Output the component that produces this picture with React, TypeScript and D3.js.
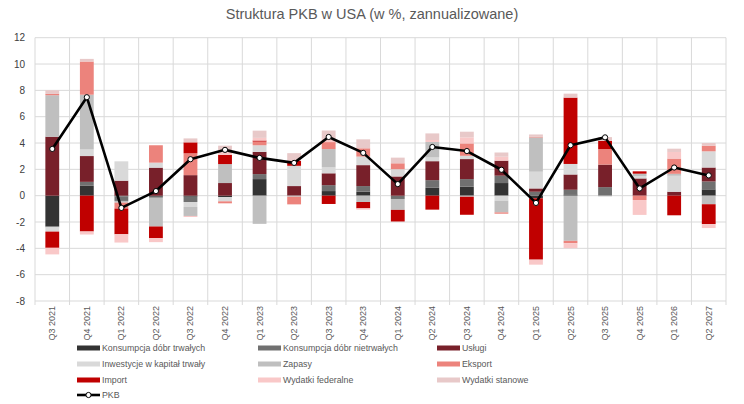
import React from "react";
import * as d3 from "d3";

const categories = ["Q3 2021","Q4 2021","Q1 2022","Q2 2022","Q3 2022","Q4 2022","Q1 2023","Q2 2023","Q3 2023","Q4 2023","Q1 2024","Q2 2024","Q3 2024","Q4 2024","Q1 2025","Q2 2025","Q3 2025","Q4 2025","Q1 2026","Q2 2027"];

const durable =     [-2.32, 0.75, -0.05, -0.08, -0.08, -0.1, 1.26, 0, 0.35, 0.3, 0, 0.6, 0.68, 0.96, -0.2, 0.1, 0, 0, 0, 0.48];
const nondurable =  [-0.08, 0.3, -0.35, -0.08, -0.4, 0, 0.38, 0, 0.45, 0.43, -0.25, 0.58, 0.58, 0.56, 0.3, 0.35, 0.65, 0, 0, 0.6];
const services =    [4.48, 1.96, 1.14, 2.13, 1.56, 0.96, 1.69, 0.73, 0.9, 1.59, 1.46, 1.44, 1.52, 1.14, 0.25, 1.16, 1.71, 1.31, 0.3, 1.06];
const investment =  [-0.33, 0.5, 1.47, 0.38, -0.38, -0.33, 0.5, 1.54, 0.45, 0.65, 0.55, 0.28, 0.25, -0.38, 1.27, 0.8, 0, 0.18, 1.21, 1.23];
const inventories = [3.15, 4.16, -0.13, -2.18, -0.68, 1.44, -2.14, -0.08, 1.39, -0.48, -0.83, 1.18, -0.08, -0.89, 2.6, -3.43, -0.05, 0.18, 0.15, -0.65];
const exportsV =    [0.1, 2.52, -0.45, 1.32, 1.66, -0.15, 0.28, -0.58, 0.53, 0.63, 0.45, 0, 0.94, -0.1, 0.06, -0.18, 1.18, -0.33, 1.16, 0.43];
const importsV =    [-1.23, -2.72, -1.95, -0.89, 0.83, 0.7, 0.08, 0.38, -0.63, -0.48, -0.88, -1.06, -1.37, 0, -4.66, 5.04, 0.63, 0.18, -1.49, -1.51];
const federal =     [-0.5, -0.23, -0.63, -0.3, -0.08, 0.2, 0.2, 0, 0.25, -0.1, 0, 0.15, 0.46, 0.3, -0.38, -0.38, 0, -1.13, 0.5, -0.3];
const stateV =      [0.28, 0.2, 0, 0, 0.3, 0.5, 0.55, 0.58, 0.63, 0.68, 0.43, 0.5, 0.43, 0.32, 0.17, 0.3, 0.28, 0, 0.25, 0.2];
const gdp =         [3.55, 7.48, -0.93, 0.35, 2.77, 3.48, 2.87, 2.49, 4.46, 3.25, 0.88, 3.7, 3.39, 1.97, -0.55, 3.83, 4.43, 0.55, 2.14, 1.54];

const seriesNames = ["Konsumpcja dóbr trwałych","Konsumpcja dóbr nietrwałych","Usługi","Inwestycje w kapitał trwały","Zapasy","Eksport","Import","Wydatki federalne","Wydatki stanowe"];
const seriesValues = [durable, nondurable, services, investment, inventories, exportsV, importsV, federal, stateV];
const seriesColors = ["#333333","#707070","#78202a","#d9d9d9","#bfbfbf","#ec837c","#c00000","#f9c8c8","#e8c9c9"];
const yTicks = [-8,-6,-4,-2,0,2,4,6,8,10,12];
const gdpName = "PKB";

const W = 744, H = 404;
const font = "'Liberation Sans', Arial, sans-serif";

export default function App() {
  const x = d3.scaleBand().domain(categories).range([35, 726]).padding(0);
  const y = d3.scaleLinear().domain([-8, 12]).range([301, 37.7]);
  const bw = x.bandwidth();
  const rows = categories.map((c, i) => {
    const o: any = { cat: c };
    seriesNames.forEach((n, k) => (o[n] = seriesValues[k][i]));
    return o;
  });
  const stack = d3.stack<any>().keys(seriesNames).order(d3.stackOrderNone).offset(d3.stackOffsetDiverging);
  const layers = stack(rows);
  const line = d3.line<number>().x((_, i) => (x(categories[i]) as number) + bw / 2).y((d) => y(d));

  const legendCols = [77, 258, 437];
  const legendRows = [348, 364, 380, 395];

  return (
    <div style={{ position: "fixed", left: 0, top: 0 }}>
      <svg width={W} height={H} style={{ display: "block", background: "#fff" }}>
        <text x={372} y={19} textAnchor="middle" fontFamily={font} fontSize={14.5} fill="#595959">
          Struktura PKB w USA (w %, zannualizowane)
        </text>
        {yTicks.map((t) => (
          <g key={t}>
            <line x1={35} x2={726} y1={y(t)} y2={y(t)} stroke="#d9d9d9" strokeWidth={1} />
            <text x={25} y={y(t) + 3.5} textAnchor="end" fontFamily={font} fontSize={10} fill="#404040">
              {t}
            </text>
          </g>
        ))}
        {categories.map((c, i) => (
          <line key={"v" + c} x1={x(c)} x2={x(c)} y1={y(12)} y2={y(-8) + 4} stroke="#d9d9d9" strokeWidth={1} />
        ))}
        <line x1={726} x2={726} y1={y(12)} y2={y(-8) + 4} stroke="#d9d9d9" strokeWidth={1} />
        {layers.map((layer, k) => (
          <g key={seriesNames[k]} fill={seriesColors[k]}>
            {layer.map((d, i) => {
              const y0 = y(d[0]), y1 = y(d[1]);
              return (
                <rect key={i} x={(x(categories[i]) as number) + bw * 0.3} width={bw * 0.4}
                  y={Math.min(y0, y1)} height={Math.abs(y0 - y1)} />
              );
            })}
          </g>
        ))}
        <path d={line(gdp) || ""} fill="none" stroke="#000" strokeWidth={2.6} strokeLinejoin="round" />
        {gdp.map((v, i) => (
          <circle key={i} cx={(x(categories[i]) as number) + bw / 2} cy={y(v)} r={2.6} fill="#fff" stroke="#000" strokeWidth={1} />
        ))}
        {categories.map((c) => {
          const cx = (x(c) as number) + bw / 2 + 3;
          return (
            <text key={"l" + c} transform={`translate(${cx},306) rotate(-90)`} textAnchor="end"
              fontFamily={font} fontSize={9} fill="#595959">
              {c}
            </text>
          );
        })}
        {seriesNames.map((n, k) => {
          const lx = legendCols[k % 3];
          const ly = legendRows[Math.floor(k / 3)];
          return (
            <g key={"lg" + n}>
              <rect x={lx} y={ly - 2.5} width={23} height={5} fill={seriesColors[k]} />
              <text x={lx + 25} y={ly + 3} fontFamily={font} fontSize={8.8} fill="#595959">{n}</text>
            </g>
          );
        })}
        <g>
          <line x1={77} x2={100} y1={legendRows[3]} y2={legendRows[3]} stroke="#000" strokeWidth={2.6} />
          <circle cx={88.5} cy={legendRows[3]} r={2.6} fill="#fff" stroke="#000" strokeWidth={1} />
          <text x={102} y={legendRows[3] + 3} fontFamily={font} fontSize={8.8} fill="#595959">{gdpName}</text>
        </g>
      </svg>
    </div>
  );
}
